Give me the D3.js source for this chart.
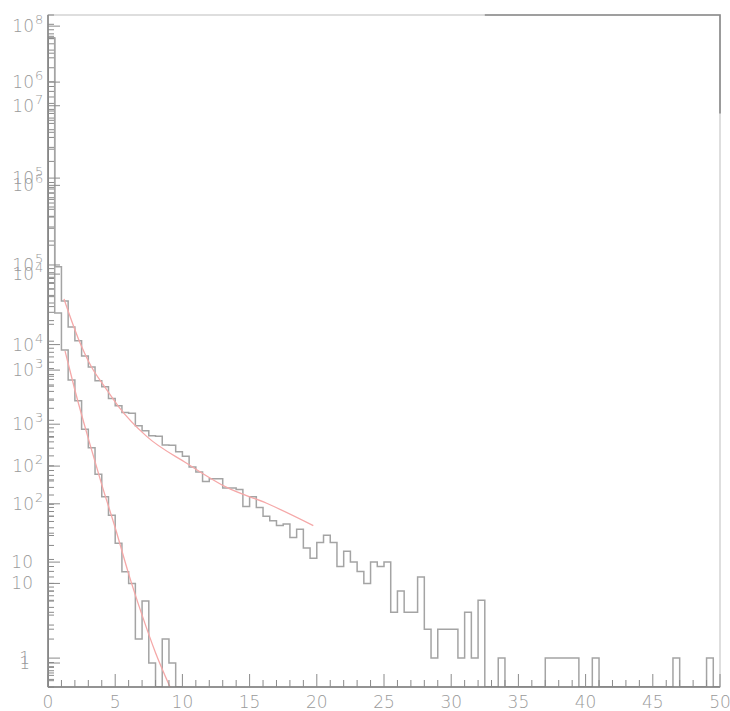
<!DOCTYPE html>
<html><head><meta charset="utf-8">
<script src="https://cdn.jsdelivr.net/npm/d3@7"></script>
<style>
body{margin:0;background:#fff}
text{font-family:"DejaVu Sans",sans-serif;font-weight:200;fill:#9a9a9a}
</style>
</head><body>
<svg id="c" width="730" height="711"></svg>
<script>
// ---------- data ----------
const binWidth = 0.5;            // x range 0 .. 50, 100 bins
const xDomain = [0, 50];
// wide (slow-falling) histogram, read against log scale B
const wideCounts = [
  2900000, 11900, 5250, 2820, 2020, 1400, 1080, 774, 670, 507,
  425, 362, 355, 263, 233, 207, 205, 166, 165, 141,
  127, 98, 87, 69, 74, 74, 59, 59, 57, 38,
  48, 37, 30, 27, 24, 25, 18, 22, 14, 11,
  16, 19, 16, 9, 13, 10, 8, 6, 10, 9,
  10, 3, 5, 3, 3, 7, 2, 1, 2, 2,
  2, 1, 3, 1, 4, 0, 0, 1, 0, 0,
  0, 0, 0, 0, 1, 1, 1, 1, 1, 0,
  0, 1, 0, 0, 0, 0, 0, 0, 0, 0,
  0, 0, 0, 1, 0, 0, 0, 0, 1, 0
];
// narrow (steep) histogram, read against log scale A
const narrowCounts = [
  70000000, 24900, 8550, 3590, 1970, 863, 507, 235, 123, 72,
  32, 14, 10, 2, 6, 1, 0, 2, 1, 0
];
// fit curves: x positions and values
const wideFitX = [1.19, 2.25, 3.25, 4.25, 5.25, 7.34, 10.32, 13.3, 16.27, 19.74];
const wideFitV = [5500, 2140, 1070, 660, 417, 204, 107, 60, 41, 24];
const narrowFitX = [1.27, 2, 3, 4, 5, 6, 7, 8, 9.08];
const narrowFitV = [8300, 2690, 660, 174, 50, 13.2, 4.0, 1.35, 0.5];
// axes
const xMajorTicks = [0, 5, 10, 15, 20, 25, 30, 35, 40, 45, 50];
const axisARange = [0.5, 1.38e8];
const axisBRange = [0.5, 5e6];
const axisADecades = [0, 1, 2, 3, 4, 5, 6, 7, 8];
const axisBDecades = [0, 1, 2, 3, 4, 5, 6];

// ---------- layout ----------
const L = 48, R = 720, T = 15, B = 687;
const svg = d3.select("#c");
const x = d3.scaleLinear().domain(xDomain).range([L, R]);
const yA = d3.scaleLog().domain(axisARange).range([B, T]);
const yB = d3.scaleLog().domain(axisBRange).range([B, T]);

svg.append("defs").append("clipPath").attr("id", "clip")
  .append("rect").attr("x", L).attr("y", T).attr("width", R - L).attr("height", B - T);

// frame
svg.append("rect").attr("x", L).attr("y", T).attr("width", R - L).attr("height", B - T)
  .attr("fill", "none").attr("stroke", "#c8c8c8").attr("stroke-width", 1.2);

// histograms
function histPath(counts, y) {
  const [lo, hi] = y.domain();
  const yv = v => v > 0 ? y(Math.min(Math.max(v, lo), hi)) : B;
  let d = `M${x(0)},${B}`;
  counts.forEach((v, i) => {
    const yy = yv(v);
    d += `L${x(i * binWidth)},${yy}L${x((i + 1) * binWidth)},${yy}`;
  });
  d += `L${x(counts.length * binWidth)},${B}`;
  return d;
}
const g = svg.append("g").attr("clip-path", "url(#clip)");
g.append("path").attr("d", histPath(wideCounts, yB))
  .attr("fill", "none").attr("stroke", "#a4a4a4").attr("stroke-width", 1.5);
g.append("path").attr("d", histPath(narrowCounts, yA))
  .attr("fill", "none").attr("stroke", "#a4a4a4").attr("stroke-width", 1.5);

// fits
const fitPath = (xs, vs, y) =>
  d3.line().x(d => x(d[0])).y(d => y(d[1])).curve(d3.curveMonotoneX)(xs.map((v, i) => [v, vs[i]]));
g.append("path").attr("d", fitPath(wideFitX, wideFitV, yB))
  .attr("fill", "none").attr("stroke", "#f5a8a8").attr("stroke-width", 1.3);
g.append("path").attr("d", fitPath(narrowFitX, narrowFitV, yA))
  .attr("fill", "none").attr("stroke", "#f5a8a8").attr("stroke-width", 1.3);

// darker top-right frame segment
svg.append("path")
  .attr("d", `M${x(32.5)},${T}L${R},${T}L${R},${yA(8e6)}`)
  .attr("fill", "none").attr("stroke", "#8a8a8a").attr("stroke-width", 1.6);

// axis lines
svg.append("line").attr("x1", L).attr("x2", L).attr("y1", T).attr("y2", B)
  .attr("stroke", "#7a7a7a").attr("stroke-width", 1.4);
svg.append("line").attr("x1", L).attr("x2", R).attr("y1", B).attr("y2", B)
  .attr("stroke", "#7a7a7a").attr("stroke-width", 1.4);

// x ticks
const xt = svg.append("g");
d3.range(0, 51).forEach(v => {
  const major = xMajorTicks.includes(v);
  xt.append("line").attr("x1", x(v)).attr("x2", x(v)).attr("y1", B).attr("y2", B - (major ? 13 : 7))
    .attr("stroke", "#8a8a8a").attr("stroke-width", 1);
});
xMajorTicks.forEach(v => {
  svg.append("text").attr("x", x(v)).attr("y", 708).attr("text-anchor", "middle")
    .attr("font-size", 17).text(v);
});

// y ticks for both log scales
function yTicks(y, decades) {
  const [lo, hi] = y.domain();
  const gg = svg.append("g");
  for (let k = -1; k <= decades[decades.length - 1] + 1; k++) {
    for (let m = 1; m <= 9; m++) {
      const v = m * Math.pow(10, k);
      if (v < lo || v > hi) continue;
      gg.append("line").attr("x1", L).attr("x2", L + (m === 1 ? 12 : 6))
        .attr("y1", y(v)).attr("y2", y(v)).attr("stroke", "#8a8a8a").attr("stroke-width", 1);
    }
  }
  decades.forEach(k => {
    const yy = y(Math.pow(10, k));
    if (k === 0) {
      gg.append("text").attr("x", 30).attr("y", yy + 6).attr("text-anchor", "end")
        .attr("font-size", 17).text("1");
    } else if (k === 1) {
      gg.append("text").attr("x", 33).attr("y", yy + 6).attr("text-anchor", "end")
        .attr("font-size", 17).text("10");
    } else {
      gg.append("text").attr("x", 34).attr("y", yy + 6).attr("text-anchor", "end")
        .attr("font-size", 17).text("10");
      gg.append("text").attr("x", 35).attr("y", yy - 2).attr("text-anchor", "start")
        .attr("font-size", 13).text(k);
    }
  });
}
yTicks(yA, axisADecades);
yTicks(yB, axisBDecades);
</script>
</body></html>
